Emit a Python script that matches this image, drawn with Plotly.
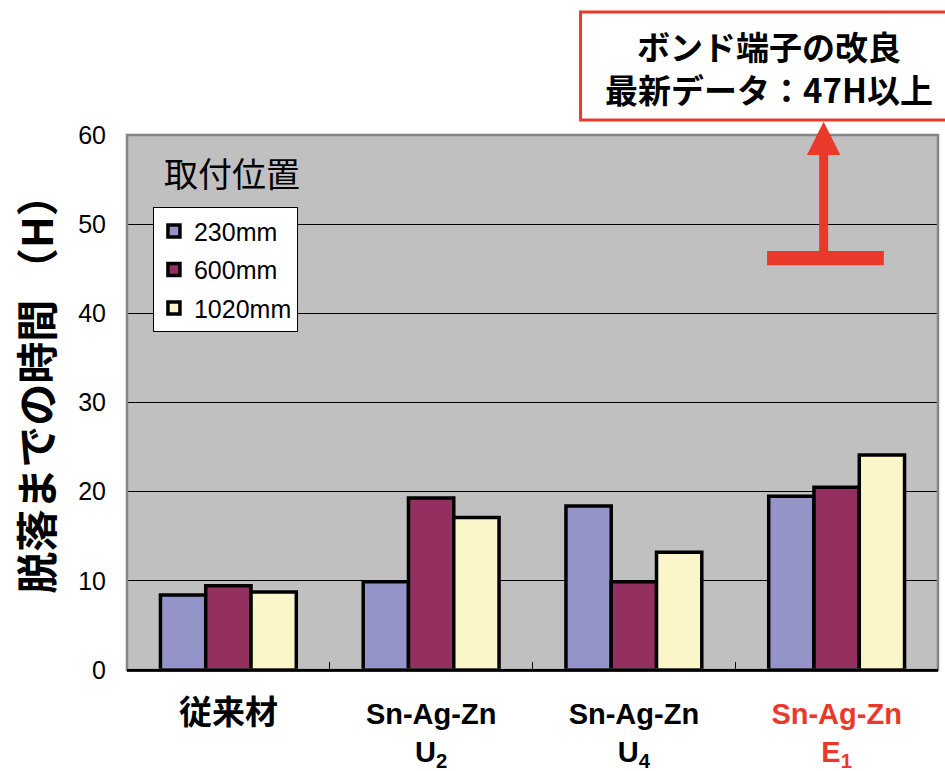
import plotly.graph_objects as go

# Detachment time (hours) by material and mounting position
categories = ["従来材", "Sn-Ag-Zn U2", "Sn-Ag-Zn U4", "Sn-Ag-Zn E1"]
tick_labels = [
    "<span style='font-size:33px'>従来材</span>",
    "Sn-Ag-Zn<br>U<sub>2</sub>",
    "Sn-Ag-Zn<br>U<sub>4</sub>",
    "<span style='color:#E8392A'>Sn-Ag-Zn<br>E<sub>1</sub></span>",
]
series_names = ["230mm", "600mm", "1020mm"]
h_230 = [8.4, 9.9, 18.4, 19.5]
h_600 = [9.45, 19.3, 9.9, 20.5]
h_1020 = [8.75, 17.1, 13.2, 24.1]
latest_hours = 47  # improved bond terminal, latest data

colors = ["#9494C8", "#933060", "#FAF6CA"]
RED = "#E8392A"
FONT = "Liberation Sans, Arial, Noto Sans CJK JP, sans-serif"
JP_FONT = "Noto Sans CJK JP, Liberation Sans, sans-serif"

fig = go.Figure()
for i, (name, vals) in enumerate(zip(series_names, [h_230, h_600, h_1020])):
    fig.add_trace(go.Bar(
        x=categories, y=vals, name=name,
        marker=dict(color=colors[i], line=dict(color="black", width=3.5)),
        legendgroup=name,
    ))

x_lo, x_hi = -0.5, 3.5
y_lo, y_hi = 0, 60


def xp(v):
    return (v - x_lo) / (x_hi - x_lo)


def yp(v):
    return (v - y_lo) / (y_hi - y_lo)


fig.update_layout(
    width=945, height=771,
    margin=dict(l=127, r=7, t=135, b=101),
    paper_bgcolor="white",
    plot_bgcolor="#C0C0C0",
    barmode="group",
    bargap=0.33,
    bargroupgap=0,
    font=dict(family=FONT, color="black"),
    showlegend=True,
    legend=dict(
        x=0.032, y=0.865, xanchor="left", yanchor="top",
        bgcolor="white", bordercolor="black", borderwidth=1,
        font=dict(size=25, family=FONT),
        tracegroupgap=3,
        itemwidth=30,
    ),
    xaxis=dict(
        range=[x_lo, x_hi], automargin=False,
        tickmode="array", tickvals=categories, ticktext=tick_labels,
        tickson="boundaries", ticks="inside", ticklen=8, tickcolor="black",
        tickfont=dict(size=29, family=FONT, weight="bold"),
        ticklabelstandoff=17,
        showline=True, linecolor="black", linewidth=2,
        showgrid=False, zeroline=False,
    ),
    yaxis=dict(
        range=[y_lo, y_hi], dtick=10, automargin=False,
        showgrid=True, gridcolor="black", gridwidth=1,
        tickfont=dict(size=25, family=FONT),
        ticks="", ticklabelstandoff=20,
        showline=False, zeroline=False,
    ),
)

# plot frame
fig.add_shape(type="rect", xref="paper", yref="paper", x0=0, x1=1, y0=0, y1=1,
              line=dict(color="#858585", width=2.5), layer="above")
fig.add_shape(type="line", xref="paper", yref="paper", x0=0, x1=1, y0=0, y1=0,
              line=dict(color="black", width=2), layer="above")

# y-axis title
fig.add_annotation(
    xref="paper", yref="paper", x=-0.1136, y=0.535,
    xanchor="center", yanchor="middle",
    text="<b>脱落までの時間 （H）</b>", textangle=-90, showarrow=False,
    font=dict(size=42, family=JP_FONT, color="black"),
)

# legend heading
fig.add_annotation(
    xref="paper", yref="paper", x=(232 - 127) / 810, y=(670 - 172) / 535,
    xanchor="center", yanchor="middle",
    text="取付位置", showarrow=False,
    font=dict(size=34, family=JP_FONT, color="black"),
)

# latest-data marker: bar at the stated level with upward arrow
arrow_x = 2.936
fig.add_shape(type="rect", xref="x", yref="y",
              x0=2.657, x1=3.233, y0=latest_hours - 1.6, y1=latest_hours,
              fillcolor=RED, line=dict(width=0), layer="above")
fig.add_shape(type="line", xref="x", yref="y",
              x0=arrow_x, x1=arrow_x, y0=latest_hours - 0.8, y1=58.0,
              line=dict(color=RED, width=9), layer="above")
hw = 0.0825
tip = yp(61.5)
base = yp(57.75)
fig.add_shape(type="path", xref="paper", yref="paper",
              path=f"M {xp(arrow_x - hw)} {base} L {xp(arrow_x + hw)} {base} L {xp(arrow_x)} {tip} Z",
              fillcolor=RED, line=dict(color=RED, width=0), layer="above")

# callout box
fig.add_shape(type="rect", xref="paper", yref="paper",
              x0=(580 - 127) / 810, x1=1.03, y0=(670 - 120) / 535, y1=(670 - 12) / 535,
              fillcolor="white", line=dict(color=RED, width=3))
fig.add_annotation(
    xref="paper", yref="paper", x=(768 - 127) / 810, y=(670 - 67) / 535,
    xanchor="center", yanchor="middle",
    text=f"<b>ボンド端子の改良<br>最新データ：{latest_hours}H以上</b>", showarrow=False,
    font=dict(size=33, family=JP_FONT, color="black"),
)

fig.write_html("out.html")
